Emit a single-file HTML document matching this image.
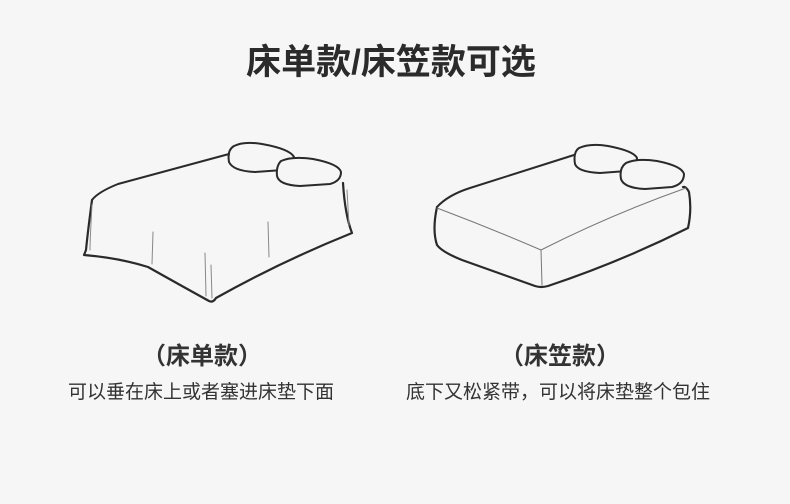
<!DOCTYPE html>
<html><head><meta charset="utf-8"><style>
html,body{margin:0;padding:0;background:#f6f6f6;}
body{width:790px;height:504px;position:relative;overflow:hidden;font-family:"Liberation Sans","Noto Sans CJK SC",sans-serif;color:#333;}
.t{position:absolute;white-space:nowrap;}
</style></head><body>
<div class="t" style="width:790px;text-align:center;top:34px;font-size:35px;font-weight:bold;color:#2b2b2b;left:-4px">床单款/床笠款可选</div>
<svg width="790" height="504" style="position:absolute;left:0;top:0" fill="none" stroke="#2a2a2a" stroke-linecap="round" stroke-linejoin="round">
 <path d="M92,200 Q98,192 118,184 L229,154" stroke-width="2"/>
 <path d="M92,200 Q88,230 86,250 L84,255 Q120,258 148,267 Q180,285 209,301 Q213,303 216,298 Q280,262 352,233 Q345,215 343,183" stroke-width="2.2"/>
 <path d="M153,232 L152,264 M268,222 L269,257 M205,253 L206,296 M211,265 L212,298 M347,190 L349,225 M92,205 Q90,240 90,250" stroke="#888" stroke-width="1"/>
 <path d="M234,146 Q244,141 262,144 Q290,149 294,157 Q293,167 283,170 L255,172 Q233,171 229,162 Q227,150 234,146 Z" stroke-width="2"/>
 <path d="M281,161 Q292,156 313,159 Q339,164 341,172 Q341,181 330,184 L300,186 Q279,185 277,176 Q276,166 281,161 Z" stroke-width="2" fill="#f6f6f6"/>
 <path d="M437,207 Q448,195 470,188 L574,155" stroke-width="2"/>
 <path d="M437,207 Q432,230 437,245 Q442,252 462,260 L535,286 Q541,288 548,286 Q620,262 688,228 Q692,210 689,192 Q686,186 683,187" stroke-width="2.2"/>
 <path d="M437,208 Q490,228 541,250 Q610,215 686,188 M541,250 L542,285" stroke="#777" stroke-width="1"/>
 <path d="M579,148 Q590,143 608,146 Q634,151 637,158 Q637,168 627,171 L600,173 Q578,172 575,164 Q573,152 579,148 Z" stroke-width="2"/>
 <path d="M626,163 Q637,158 657,161 Q682,166 684,174 Q684,184 672,187 L645,189 Q624,188 621,179 Q619,168 626,163 Z" stroke-width="2" fill="#f6f6f6"/>
</svg>
<div class="t" style="left:142px;top:336px;font-size:24px;font-weight:bold;color:#333">（床单款）</div>
<div class="t" style="left:68px;top:377px;font-size:19px;color:#333">可以垂在床上或者塞进床垫下面</div>
<div class="t" style="left:500px;top:336px;font-size:24px;font-weight:bold;color:#333">（床笠款）</div>
<div class="t" style="left:406px;top:377px;font-size:19px;color:#333">底下又松紧带，可以将床垫整个包住</div>
</body></html>
